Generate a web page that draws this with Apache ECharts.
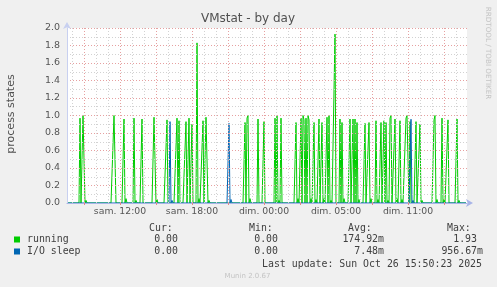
<!DOCTYPE html>
<html>
<head>
<meta charset="utf-8">
<script src="https://cdn.jsdelivr.net/npm/echarts@6/dist/echarts.min.js"></script>
<style>
html,body{margin:0;padding:0;background:#f0f0f0;}
#c{width:497px;height:287px;}
</style>
</head>
<body>
<div id="c"></div>
<script>
// ---- data (5-minute sample index 0..399, value) ----
const sampleCount = 400;
const seriesNames = ['running', 'I/O sleep'];
const seriesColors = ['#00cc00', '#0066b3'];
const runningSpikes = [
  [13,0.97],[16,1.0],[17,1.0],[19,0.03],[47,1.0],[48,1.0],[57,0.96],[59,0.05],
  [67,0.97],[69,0.03],[75,0.96],[87,0.98],[88,1.0],[90,0.04],[100,0.95],[110,0.97],
  [112,0.94],[119,0.93],[122,0.97],[125,0.90],[130,1.83],[132,0.05],[136,0.94],[139,0.98],
  [140,1.0],[142,0.03],[178,0.92],[180,0.97],[181,1.0],[183,0.05],[191,0.96],[197,0.93],
  [208,0.97],[210,1.0],[212,0.03],[214,0.97],[229,0.92],[231,0.05],[234,0.97],[236,1.0],
  [237,0.95],[239,0.97],[241,1.0],[242,0.95],[244,0.05],[247,0.92],[249,0.04],[252,0.96],
  [255,0.92],[257,0.05],[260,0.98],[262,1.0],[264,0.03],[268,1.93],[273,0.96],[275,0.92],
  [277,0.05],[283,0.96],[286,0.96],[288,0.96],[290,0.92],[292,0.04],[298,0.91],[302,0.92],
  [304,0.05],[309,0.94],[311,0.04],[314,0.92],[317,0.94],[319,0.92],[321,0.03],[323,0.97],
  [324,1.0],[328,0.96],[330,0.05],[333,0.94],[335,0.04],[339,0.97],[340,1.0],[341,1.0],
  [343,0.93],[349,0.93],[353,0.90],[355,0.03],[367,0.95],[368,1.0],[370,0.04],[375,0.97],
  [377,0.04],[381,0.95],[390,0.96],[392,0.03]
];
const ioSleepSpikes = [
  [103,0.93],[105,0.03],[162,0.91],[164,0.04],[344,0.957],[346,0.03]
];
const xLabelSlots = [53,125,197,269,341];
const xLabelTexts = ['sam. 12:00','sam. 18:00','dim. 00:00','dim. 05:00','dim. 11:00'];
const xMajorGrid = [17,53,89,125,161,197,233,269,305,341,377];
const xMinorGrid = [5,29,41,65,77,101,113,137,149,173,185,209,221,245,257,281,293,317,329,353,365,389];
const yMinorGrid = [0.1,0.3,0.5,0.7,0.9,1.1,1.3,1.5,1.7,1.9];
const yMajorGrid = [0.2,0.4,0.6,0.8,1.0,1.2,1.4,1.6,1.8,2.0];
const legendCur = ['0.00','0.00'];
const legendMin = ['0.00','0.00'];
const legendAvg = ['174.92m','7.48m'];
const legendMax = ['1.93','956.67m'];
const lastUpdate = 'Last update: Sun Oct 26 15:50:23 2025';

function expand(spikes){
  const a = new Array(sampleCount).fill(0);
  spikes.forEach(function(s){ a[s[0]] = s[1]; });
  return a.map(function(v,i){ return [i, v]; });
}

const chart = echarts.init(document.getElementById('c'), null, {renderer:'canvas'});
const mono = '9.9px "DejaVu Sans Mono"';
const txtCol = '#404040';
const gray = '#d2d2d2', red = '#e6a0a0';

function gridLines(){
  const d = [];
  // +0.5 sample puts vertical grid lines on pixel centres (crisp dots)
  xMinorGrid.forEach(function(v){ d.push({xAxis:v+0.5, lineStyle:{color:gray}}); });
  yMinorGrid.forEach(function(v){ d.push({yAxis:v, lineStyle:{color:gray}}); });
  xMajorGrid.forEach(function(v){ d.push({xAxis:v+0.5, lineStyle:{color:red}}); });
  yMajorGrid.forEach(function(v){ d.push({yAxis:v, lineStyle:{color:red}}); });
  return d;
}

const graphics = [
  {type:'text', x:248, y:19, style:{text:'VMstat - by day', font:'12px "DejaVu Sans"', fill:'#505050', textAlign:'center', textVerticalAlign:'middle'}},
  {type:'text', x:11, y:114, rotation:Math.PI/2, style:{text:'process states', font:'11px "DejaVu Sans"', fill:'#505050', textAlign:'center', textVerticalAlign:'middle'}},
  {type:'text', x:488, y:53, rotation:-Math.PI/2, style:{text:'RRDTOOL / TOBI OETIKER', font:'7.2px "DejaVu Sans"', fill:'#c4c4c4', textAlign:'center', textVerticalAlign:'middle'}},
  {type:'text', x:149, y:228, style:{text:'Cur:', font:mono, fill:txtCol, textVerticalAlign:'middle'}},
  {type:'text', x:249, y:228, style:{text:'Min:', font:mono, fill:txtCol, textVerticalAlign:'middle'}},
  {type:'text', x:348, y:228, style:{text:'Avg:', font:mono, fill:txtCol, textVerticalAlign:'middle'}},
  {type:'text', x:447, y:228, style:{text:'Max:', font:mono, fill:txtCol, textVerticalAlign:'middle'}},
  {type:'text', x:482, y:264, style:{text:lastUpdate, font:mono, fill:txtCol, textAlign:'right', textVerticalAlign:'middle'}},
  {type:'text', x:247.5, y:276, style:{text:'Munin 2.0.67', font:'7px "DejaVu Sans"', fill:'#c4c4c4', textAlign:'center', textVerticalAlign:'middle'}}
];
const rowY = [239.5, 251.5];
for (let i = 0; i < 2; i++) {
  graphics.push({type:'rect', shape:{x:14, y:rowY[i]-3, width:6, height:6}, style:{fill:seriesColors[i]}});
  graphics.push({type:'text', x:27, y:rowY[i], style:{text:seriesNames[i], font:mono, fill:txtCol, textVerticalAlign:'middle'}});
  graphics.push({type:'text', x:178, y:rowY[i], style:{text:legendCur[i], font:mono, fill:txtCol, textAlign:'right', textVerticalAlign:'middle'}});
  graphics.push({type:'text', x:278, y:rowY[i], style:{text:legendMin[i], font:mono, fill:txtCol, textAlign:'right', textVerticalAlign:'middle'}});
  graphics.push({type:'text', x:384, y:rowY[i], style:{text:legendAvg[i], font:mono, fill:txtCol, textAlign:'right', textVerticalAlign:'middle'}});
  graphics.push({type:'text', x:legendMax[i].slice(-1)==='m'?483:477, y:rowY[i], style:{text:legendMax[i], font:mono, fill:txtCol, textAlign:'right', textVerticalAlign:'middle'}});
}

chart.setOption({
  animation:false,
  backgroundColor:'#f0f0f0',
  grid:{left:67, top:28, width:400, height:175, show:true, backgroundColor:'#ffffff', borderWidth:0},
  xAxis:{
    type:'value', min:0, max:sampleCount, z:10,
    splitLine:{show:false},
    axisLine:{show:true, lineStyle:{color:'#a8b4e8', width:1}, symbol:['none','arrow'], symbolSize:[6,7], symbolOffset:[0,6]},
    axisTick:{show:true, customValues:xMajorGrid, length:2, lineStyle:{color:'#e08888'}},
    axisLabel:{customValues:xLabelSlots, formatter:function(v){ const k = xLabelSlots.indexOf(Math.round(v)); return k>=0?xLabelTexts[k]:''; },
      fontFamily:'DejaVu Sans', fontSize:9.3, color:'#555', margin:4}
  },
  yAxis:{
    type:'value', min:0, max:2, interval:0.2, z:10,
    splitLine:{show:false},
    axisLine:{show:true, lineStyle:{color:'#c8d0f0', width:1}, symbol:['none','arrow'], symbolSize:[6,7], symbolOffset:[0,6]},
    axisTick:{show:false},
    axisLabel:{formatter:function(v){ return v.toFixed(1); }, fontFamily:'DejaVu Sans', fontSize:9.5, color:'#555', margin:7}
  },
  graphic:graphics,
  series:[
    {type:'line', name:'grid', data:[[0,0]], showSymbol:false, symbol:'none', lineStyle:{width:0, opacity:0}, z:1, silent:true,
      markLine:{silent:true, symbol:'none', label:{show:false}, animation:false, lineStyle:{type:[1,2], width:1}, data:gridLines()}},
    {type:'line', name:seriesNames[0], data:expand(runningSpikes), showSymbol:false, symbol:'none', z:3,
      lineStyle:{color:seriesColors[0], width:1}},
    {type:'line', name:seriesNames[1], data:expand(ioSleepSpikes), showSymbol:false, symbol:'none', z:4,
      lineStyle:{color:seriesColors[1], width:1}}
  ]
});
</script>
</body>
</html>
